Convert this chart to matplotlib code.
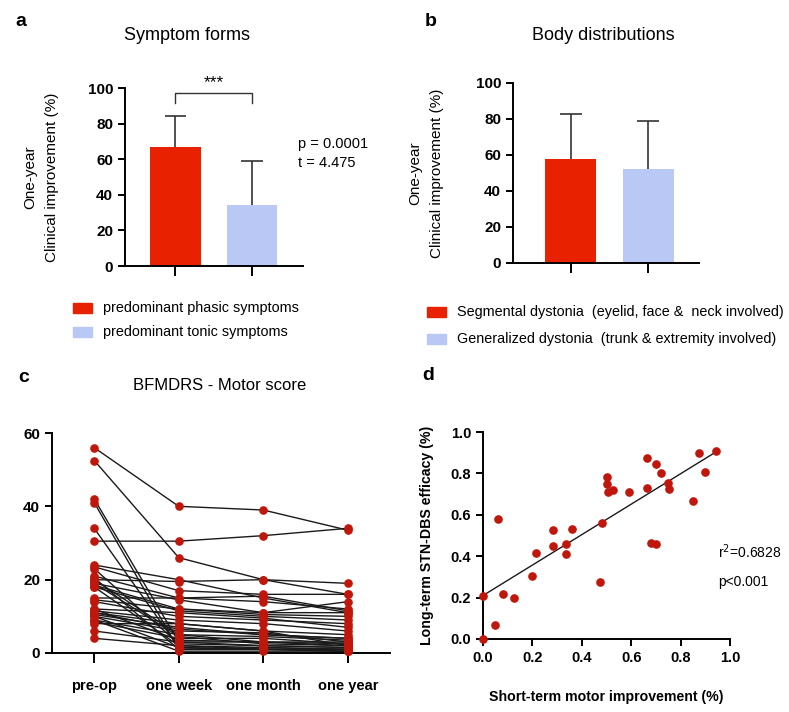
import numpy as np
import matplotlib
matplotlib.use("Agg")
import matplotlib.pyplot as plt
from matplotlib.patches import Rectangle

plt.rcParams['font.family'] = ['Liberation Sans', 'DejaVu Sans']

# ---------------- data ----------------
# panel a
a_groups = ["predominant phasic symptoms", "predominant tonic symptoms"]
a_means = [67, 34]
a_sd = [17, 25]
a_stats = ["p = 0.0001", "t = 4.475"]

# panel b
b_groups = ["Segmental dystonia  (eyelid, face &  neck involved)",
            "Generalized dystonia  (trunk & extremity involved)"]
b_means = [58, 52.5]
b_sd = [25, 26.5]

# panel c
c_times = ["pre-op", "one week", "one month", "one year"]
c_pre = [56, 30.5, 52.5, 20, 24, 42, 41, 34, 23.5, 21, 19, 18.5, 18, 15, 14.5, 14, 12,
         11.5, 11, 10.5, 10, 9, 8.5, 8, 6, 4, 23, 20.5, 20, 19, 18, 12, 10, 9, 11]
c_week = [40, 30.5, 26, 19.5, 20, 3, 1, 1.5, 17, 15, 14.5, 12, 11.5, 15, 12, 10, 11,
          9, 8, 7, 6, 5, 4, 8, 3, 2, 2.5, 1, 5, 4.5, 2, 3.5, 1.5, 0.5, 6.5]
c_month = [39, 32, 20, 20, 15, 2, 1, 1, 16, 14, 11, 10.5, 10, 15.5, 11, 9, 9.5,
           8, 6, 5, 5.5, 4.5, 4, 6, 3, 1.5, 2, 1.5, 3, 2.5, 1, 3, 1, 0.5, 5]
c_year = [33.5, 34, 16, 19, 11, 1.5, 1, 0.5, 16, 12, 14, 10, 9, 11.5, 11, 8, 7,
          6, 5, 4, 3, 3.5, 2.5, 2, 2, 1, 1.5, 1, 3, 2, 1, 2.5, 0.5, 0.5, 4]

# panel d
d_x = [0, 0, 0.05, 0.06, 0.08, 0.125, 0.2, 0.215, 0.285, 0.285, 0.335, 0.335, 0.36,
       0.475, 0.48, 0.5, 0.5, 0.505, 0.525, 0.59, 0.665, 0.665, 0.68, 0.7, 0.7, 0.72,
       0.75, 0.755, 0.85, 0.875, 0.9, 0.945]
d_y = [0, 0.21, 0.07, 0.58, 0.215, 0.2, 0.305, 0.415, 0.525, 0.45, 0.46, 0.41, 0.53,
       0.275, 0.56, 0.785, 0.75, 0.71, 0.72, 0.71, 0.875, 0.73, 0.465, 0.845, 0.46, 0.8,
       0.755, 0.725, 0.665, 0.9, 0.805, 0.91]
d_fit_line = [(0.0, 0.21), (0.945, 0.905)]
d_stats = ["r$^2$=0.6828", "p<0.001"]

RED = "#E82200"
BLUE = "#B9C8F5"
DOT = "#C0170C"

W, H = 789, 712
fig = plt.figure(figsize=(W / 100, H / 100), dpi=100)


def add_ax(l, t, r, b):
    return fig.add_axes([l / W, 1 - b / H, (r - l) / W, (b - t) / H])


def ftext(x, y, s, **kw):
    fig.text(x / W, 1 - y / H, s, **kw)


def style(ax, ls=11):
    for s in ["top", "right"]:
        ax.spines[s].set_visible(False)
    for s in ["left", "bottom"]:
        ax.spines[s].set_linewidth(1.4)
    ax.tick_params(width=1.4, length=5, labelsize=ls)
    for lab in ax.get_yticklabels() + ax.get_xticklabels():
        lab.set_fontweight("bold")


def bar_panel(ax, means, sd, xl, cap):
    ax.bar([0, 1], means, width=0.66, color=[RED, BLUE], zorder=2)
    for i in range(2):
        top = means[i] + sd[i]
        ax.vlines(i, means[i], top, color="#333333", lw=1.2, zorder=1)
        ax.hlines(top, i - cap, i + cap, color="#333333", lw=1.2, zorder=1)
    ax.set_xlim(*xl)
    ax.set_ylim(0, 100)
    ax.set_yticks([0, 20, 40, 60, 80, 100])
    ax.set_xticks([0, 1])
    ax.set_xticklabels([])
    style(ax)
    ax.tick_params(axis="x", length=7)


def legend_rows(x_patch, ys, labels, x_text, fs):
    for y, col, lab in zip(ys, [RED, BLUE], labels):
        fig.add_artist(Rectangle((x_patch / W, 1 - (y + 5) / H), 19 / W, 10 / H,
                                 color=col, transform=fig.transFigure))
        ftext(x_text, y, lab, fontsize=fs, va="center")


# ---------- panel a ----------
axa = add_ax(125, 88, 303, 266)
bar_panel(axa, a_means, a_sd, (-0.66, 1.67), 0.14)
axa.plot([0, 0, 1, 1], [91.5, 97, 97, 91.5], color="#333333", lw=1.0, clip_on=False)
axa.text(0.5, 99, "***", ha="center", va="bottom", fontsize=12.5, clip_on=False)
ftext(298, 144, a_stats[0], fontsize=10.5, va="center")
ftext(298, 163, a_stats[1], fontsize=10.5, va="center")
ftext(15, 22, "a", fontsize=14, fontweight="bold", va="center")
ftext(187, 35, "Symptom forms", fontsize=13, ha="center", va="center")
ftext(30, 177, "One-year", fontsize=11, rotation=90, ha="center", va="center")
ftext(52, 177, "Clinical improvement (%)", fontsize=11, rotation=90, ha="center", va="center")
legend_rows(73, [308, 332], a_groups, 103, 10.4)

# ---------- panel b ----------
axb = add_ax(513, 83, 699, 263)
bar_panel(axb, b_means, b_sd, (-0.75, 1.66), 0.14)
ftext(425, 22, "b", fontsize=14, fontweight="bold", va="center")
ftext(603, 35, "Body distributions", fontsize=13, ha="center", va="center")
ftext(415, 173, "One-year", fontsize=11, rotation=90, ha="center", va="center")
ftext(437, 173, "Clinical improvement (%)", fontsize=11, rotation=90, ha="center", va="center")
legend_rows(427, [312, 339], b_groups, 457, 10.4)

# ---------- panel c ----------
axc = add_ax(52, 433, 390, 653)
xs = np.arange(len(c_times))
for vals in zip(c_pre, c_week, c_month, c_year):
    axc.plot(xs, vals, color="#1a1a1a", lw=1.0, zorder=2, clip_on=False)
for i, series in enumerate([c_pre, c_week, c_month, c_year]):
    axc.plot(np.full(len(series), xs[i]), series, "o", color=DOT, ms=5.2, zorder=3,
             clip_on=False)
axc.set_xlim(-0.5, 3.5)
axc.set_ylim(0, 60)
axc.set_yticks([0, 20, 40, 60])
axc.set_xticks(xs)
axc.set_xticklabels(c_times)
style(axc)
axc.tick_params(axis="x", length=7, labelsize=10.5, pad=12)
for lab in axc.get_xticklabels():
    lab.set_fontweight("bold")
ftext(18, 377, "c", fontsize=14, fontweight="bold", va="center")
ftext(220, 385, "BFMDRS - Motor score", fontsize=12, ha="center", va="center")

# ---------- panel d ----------
axd = add_ax(483, 432, 730, 639)
axd.plot(d_x, d_y, "o", color=DOT, ms=5.2, zorder=3, clip_on=False)
(fx0, fy0), (fx1, fy1) = d_fit_line
axd.plot([fx0, fx1], [fy0, fy1], color="#1a1a1a", lw=1.0, zorder=2)
axd.set_xlim(0, 1)
axd.set_ylim(0, 1)
axd.set_xticks(np.arange(0, 1.01, 0.2))
axd.set_yticks(np.arange(0, 1.01, 0.2))
axd.xaxis.set_major_formatter(matplotlib.ticker.FormatStrFormatter("%.1f"))
axd.yaxis.set_major_formatter(matplotlib.ticker.FormatStrFormatter("%.1f"))
style(axd, 10.5)
axd.set_xlabel("Short-term motor improvement (%)", fontsize=10.2, fontweight="bold", labelpad=18)
axd.set_ylabel("Long-term STN-DBS efficacy (%)", fontsize=10.2, fontweight="bold", labelpad=12)
ftext(718, 552, d_stats[0], fontsize=10, va="center")
ftext(718, 582, d_stats[1], fontsize=10, va="center")
ftext(422, 375, "d", fontsize=14, fontweight="bold", va="center")

fig.savefig("out.png", dpi=100)
